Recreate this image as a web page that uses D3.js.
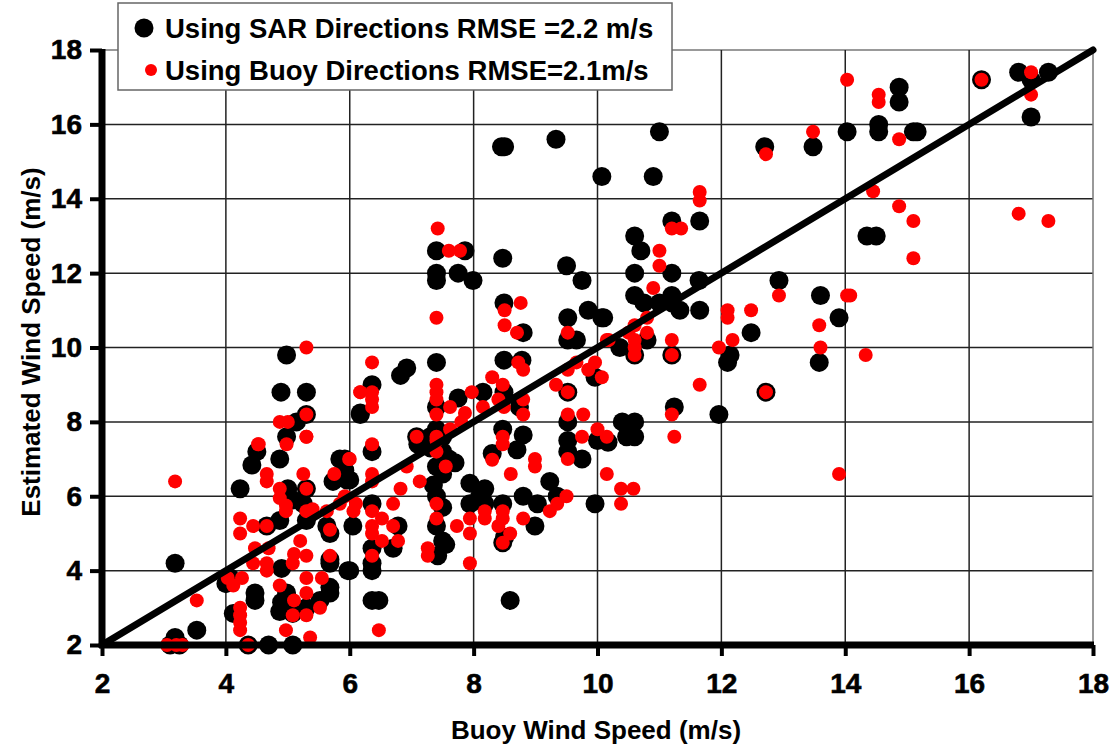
<!DOCTYPE html>
<html>
<head>
<meta charset="utf-8">
<script src="https://cdn.jsdelivr.net/npm/d3@7"></script>
<style>
  body { margin: 0; background: #fff; }
  svg text { font-family: "Liberation Sans", Arial, sans-serif; font-weight: bold; fill: #000; }
</style>
</head>
<body>
<div id="chartDiv"></div>
<script>
'use strict';

// estimated wind speed using SAR directions (black)
const sarPoints = [
  [8.5,15.4],[8.45,15.4],[9.33,15.6],[11.0,15.8],[10.07,14.6],[10.9,14.6],[11.2,13.4],[11.65,13.4],[10.6,13.0],
  [12.7,15.4],[13.48,15.4],[14.03,15.8],[14.54,16.0],[14.54,15.8],[14.87,17.0],[14.87,16.6],[15.1,15.8],[15.16,15.8],
  [16.2,17.2],[16.8,17.4],[17.28,17.4],[17.0,16.2],[17.0,17.2],[14.35,13.0],[14.5,13.0],
  [10.7,12.6],[10.6,12.0],[11.2,12.0],[11.64,11.8],[10.6,11.4],[11.2,11.4],[10.75,11.2],[11.0,11.2],[11.2,11.2],
  [11.33,11.0],[11.65,11.0],[10.1,10.8],[10.8,10.2],[10.36,10.0],[10.6,9.8],[11.2,9.8],[12.93,11.8],[13.6,11.4],
  [13.9,10.8],[13.58,9.6],[12.48,10.4],[12.14,9.8],[12.1,9.6],[12.72,8.8],[11.24,8.4],[11.96,8.2],[10.4,8.0],
  [10.6,8.0],[10.47,7.6],[10.6,7.6],[10.17,7.45],[10.0,7.5],
  [7.4,12.6],[7.86,12.6],[7.4,12.0],[7.4,11.8],[7.75,12.0],[7.99,11.8],[8.47,12.4],[9.5,12.2],[9.75,11.8],
  [8.49,11.2],[8.8,10.4],[9.52,10.8],[9.66,10.2],[9.52,10.2],[9.85,11.0],[10.07,10.8],[7.4,9.6],[6.92,9.45],
  [6.82,9.25],[6.36,9.0],[6.17,8.24],[7.4,8.4],[7.75,8.64],[8.15,8.8],[8.49,8.8],[8.49,9.66],[8.78,9.66],
  [8.74,8.4],[9.52,8.8],[9.96,9.2],[9.52,8.0],[9.52,7.5],[7.08,7.6],[7.4,7.8],[8.47,7.8],[8.8,7.65],
  [7.1,7.4],[7.3,7.3],[7.5,7.2],[7.6,7.0],[7.7,6.9],[7.4,6.8],[7.5,6.6],[7.3,7.6],[7.5,7.6],[6.36,7.2],
  [6.0,6.44],[6.36,5.8],[6.78,5.2],[6.7,4.6],[6.36,4.6],[6.36,4.2],[6.36,4.0],[6.0,4.0],[6.36,3.2],[6.47,3.2],
  [8.59,3.2],[7.35,6.3],[7.4,6.0],[7.5,5.7],[7.4,5.2],[7.5,4.8],[7.42,4.4],[7.55,4.7],[7.94,6.35],[7.94,5.8],
  [8.18,6.2],[8.18,5.8],[8.1,6.0],[8.47,5.8],[8.47,4.75],[8.5,4.9],[8.3,7.15],[8.7,7.25],[8.8,6.0],[9.03,5.8],
  [8.99,5.2],[9.23,6.4],[9.35,6.0],[9.52,7.2],[9.75,7.0],[9.96,5.8],
  [3.18,4.2],[3.53,2.4],[3.18,2.2],[3.1,2.0],[3.25,2.0],[4.23,6.2],[4.66,5.2],[4.0,3.65],[4.07,3.8],[4.47,3.2],
  [4.12,2.85],[4.36,2.0],[4.69,2.0],[5.08,2.0],[4.87,2.9],[5.08,2.85],[5.3,3.0],[4.98,3.4],[4.47,3.4],[4.9,3.15],
  [4.9,4.06],[5.52,3.2],[5.68,3.4],[5.68,3.55],[5.97,4.0],[5.73,6.4],[5.68,4.3],[5.68,4.2],[5.92,7.0],[5.84,7.0],
  [5.92,6.7],[5.95,6.44],[4.42,6.84],[4.5,7.2],[4.87,7.0],[5.08,5.9],[5.25,5.8],[5.3,5.35],[4.87,5.35],[5.63,5.2],
  [5.68,5.0],[6.05,5.2],[4.98,9.8],[4.89,8.8],[5.3,8.8],[6.17,8.2],[5.3,8.2],[5.14,8.0],[4.98,7.6],[5.0,6.2],[5.3,6.2]
];

// estimated wind speed using buoy directions (red)
const buoyPoints = [
  [11.65,14.18],[11.65,13.95],[11.2,13.2],[11.35,13.2],[7.42,13.2],
  [12.72,15.2],[13.48,15.8],[14.03,17.2],[14.54,16.8],[14.54,16.6],[14.87,15.6],[16.2,17.2],[17.0,17.4],[17.0,16.8],
  [14.45,14.2],[14.87,13.8],[15.1,13.4],[16.8,13.6],[17.28,13.4],[15.1,12.4],[14.08,11.4],[14.33,9.8],
  [11.0,12.6],[11.0,12.2],[10.9,11.6],[10.8,10.8],[10.6,10.6],[10.5,10.4],[10.6,10.2],[10.8,10.4],[10.6,10.0],
  [10.18,10.2],[10.6,9.8],[11.2,10.2],[11.2,9.8],[12.93,11.4],[14.03,11.4],[13.58,10.6],[13.6,10.0],[12.1,11.0],
  [12.1,10.8],[12.48,11.0],[12.18,10.2],[11.96,10.0],[11.65,9.0],[12.72,8.8],[11.2,8.2],[11.24,7.6],
  [7.6,12.6],[7.78,12.6],[7.4,10.8],[8.76,11.2],[8.5,11.0],[8.5,10.6],[8.7,10.4],[9.52,10.4],[10.15,10.2],
  [6.36,9.6],[6.17,8.8],[6.36,8.8],[6.36,8.6],[6.36,8.4],[7.4,9.0],[7.4,8.8],[7.4,8.6],[7.4,8.2],[7.62,8.4],
  [7.86,8.24],[7.8,8.0],[7.97,8.8],[8.15,8.4],[8.3,9.2],[8.47,9.0],[8.4,8.6],[8.49,8.4],[8.72,9.6],[8.8,9.4],
  [8.8,8.6],[8.8,8.2],[9.33,9.0],[9.52,8.8],[9.52,9.4],[9.66,9.6],[9.85,9.4],[9.96,9.6],[10.07,9.2],[9.52,8.2],
  [9.77,8.2],[9.75,7.6],[10.0,7.8],[10.15,7.6],[7.08,7.6],[7.4,7.6],[7.62,7.8],[8.47,7.6],
  [6.36,7.4],[6.0,7.0],[6.92,6.8],[7.13,6.4],[6.82,6.2],[6.36,6.6],[6.36,6.4],[6.1,5.8],[6.36,5.6],[6.52,5.4],
  [6.7,5.8],[6.7,5.2],[6.36,5.2],[6.36,5.0],[6.52,4.8],[6.78,4.8],[6.36,4.4],[6.47,2.4],[7.94,4.2],[7.4,5.8],
  [7.4,5.4],[7.26,4.6],[7.26,4.4],[7.73,5.2],[7.94,5.4],[7.94,5.0],[8.18,5.6],[8.18,5.4],[8.47,5.6],[8.47,5.4],
  [8.4,5.2],[8.47,4.75],[8.59,5.0],[8.8,5.4],[8.3,6.98],[8.47,7.4],[8.6,6.6],[8.99,7.0],[8.99,6.8],[9.23,5.6],
  [9.35,5.8],[9.5,6.0],[9.52,7.0],[10.15,6.6],[7.4,7.2],[7.4,7.5],[7.55,6.8],
  [10.38,6.2],[10.58,6.2],[10.38,5.8],[13.9,6.6],
  [3.18,6.4],[3.53,3.2],[3.05,2.0],[3.2,2.0],[3.3,2.0],[4.23,5.4],[4.23,5.0],[4.44,5.2],[4.66,5.2],[4.47,4.6],
  [4.69,4.6],[4.44,4.2],[4.66,4.2],[4.66,4.0],[4.03,3.8],[4.26,3.8],[4.12,3.6],[4.23,3.0],[4.23,2.8],[4.23,2.6],
  [4.23,2.4],[4.36,2.0],[4.87,3.6],[4.97,2.4],[5.36,2.2],[5.1,3.2],[5.08,2.8],[5.3,2.8],[5.3,3.4],[5.3,3.8],
  [4.66,6.6],[4.66,6.4],[5.25,6.6],[5.3,6.2],[4.87,6.2],[4.87,5.95],[4.97,5.75],[4.97,5.6],[5.3,5.6],[5.4,5.65],
  [5.63,5.6],[5.84,5.8],[5.92,6.0],[6.06,5.6],[5.2,4.8],[5.1,4.45],[5.08,4.2],[5.3,4.4],[5.55,3.8],[5.68,4.4],
  [5.68,5.1],[5.52,3.0],[5.75,6.6],[5.99,7.0],[4.52,7.4],[4.98,7.4],[5.3,7.6],
  [5.3,10.0],[6.17,8.8],[5.3,8.2],[4.87,8.0],[5.0,8.0],[5.3,7.6],[4.53,7.4]
];

const axisTicks = [2, 4, 6, 8, 10, 12, 14, 16, 18];
const oneToOne = [[2, 2], [18, 18]];
const legendLabels = ['Using SAR Directions RMSE =2.2 m/s', 'Using Buoy Directions RMSE=2.1m/s'];
const xTitle = 'Buoy Wind Speed (m/s)';
const yTitle = 'Estimated Wind Speed (m/s)';

const W = 1112, H = 747;
const margin = { top: 50, right: 19, bottom: 102, left: 102 };
const width = W - margin.left - margin.right;
const height = H - margin.top - margin.bottom;

const x = d3.scaleLinear().domain([2, 18]).range([0, width]);
const y = d3.scaleLinear().domain([2, 18]).range([height, 0]);

const svg = d3.select('#chartDiv').append('svg')
    .attr('width', W)
    .attr('height', H);

const g = svg.append('g')
    .attr('transform', 'translate(' + margin.left + ',' + margin.top + ')');

// grid
g.append('g').selectAll('line')
    .data(axisTicks.slice(1))
    .join('line')
    .attr('x1', 0).attr('x2', width)
    .attr('y1', d => y(d)).attr('y2', d => y(d))
    .attr('stroke', d => d === 18 ? '#777' : '#222')
    .attr('stroke-width', 1.5);

g.append('g').selectAll('line')
    .data(axisTicks.slice(1))
    .join('line')
    .attr('y1', 0).attr('y2', height)
    .attr('x1', d => x(d)).attr('x2', d => x(d))
    .attr('stroke', d => d === 18 ? '#777' : '#222')
    .attr('stroke-width', 1.5);

// points: SAR first, buoy on top
g.append('g').selectAll('circle')
    .data(sarPoints)
    .join('circle')
    .attr('cx', d => x(d[0]))
    .attr('cy', d => y(d[1]))
    .attr('r', 9.5)
    .attr('fill', '#000');

g.append('g').selectAll('circle')
    .data(buoyPoints)
    .join('circle')
    .attr('cx', d => x(d[0]))
    .attr('cy', d => y(d[1]))
    .attr('r', 7)
    .attr('fill', '#ff0000');

// 1:1 line
g.append('path')
    .datum(oneToOne)
    .attr('d', d3.line().x(d => x(d[0])).y(d => y(d[1])))
    .attr('stroke', '#000')
    .attr('stroke-width', 7)
    .attr('stroke-linecap', 'round')
    .attr('fill', 'none');

// axes
const xAxis = g.append('g')
    .attr('transform', 'translate(0,' + height + ')')
    .call(d3.axisBottom(x).tickValues(axisTicks).tickSize(11).tickPadding(17));

const yAxis = g.append('g')
    .call(d3.axisLeft(y).tickValues(axisTicks).tickSize(12).tickPadding(8));

[xAxis, yAxis].forEach(a => {
    a.select('.domain').remove();
    a.selectAll('.tick line').attr('stroke', '#000').attr('stroke-width', 4);
    a.selectAll('.tick text').style('font-size', '28px').attr('fill', '#000')
        .attr('stroke', '#000').attr('stroke-width', 0.6);
});

g.append('line')
    .attr('x1', 0).attr('x2', 0)
    .attr('y1', -1).attr('y2', height + 3)
    .attr('stroke', '#000').attr('stroke-width', 7);

g.append('line')
    .attr('x1', -3).attr('x2', width + 1)
    .attr('y1', height).attr('y2', height)
    .attr('stroke', '#000').attr('stroke-width', 7);

// axis titles
svg.append('text')
    .attr('x', 596)
    .attr('y', 739)
    .attr('text-anchor', 'middle')
    .style('font-size', '26px')
    .text(xTitle);

svg.append('text')
    .attr('transform', 'translate(40,342) rotate(-90)')
    .attr('text-anchor', 'middle')
    .style('font-size', '26px')
    .text(yTitle);

// legend
const legend = svg.append('g');
legend.append('rect')
    .attr('x', 118).attr('y', 3)
    .attr('width', 554).attr('height', 87)
    .attr('fill', '#fff')
    .attr('stroke', '#666')
    .attr('stroke-width', 1.5);

legend.append('circle').attr('cx', 144).attr('cy', 28).attr('r', 9.5).attr('fill', '#000');
legend.append('circle').attr('cx', 151).attr('cy', 70).attr('r', 6).attr('fill', '#ff0000');

legend.selectAll('text.lbl')
    .data(legendLabels)
    .join('text')
    .attr('class', 'lbl')
    .attr('x', 165)
    .attr('y', (d, i) => 38 + i * 42)
    .style('font-size', '27.5px')
    .text(d => d);
</script>
</body>
</html>
